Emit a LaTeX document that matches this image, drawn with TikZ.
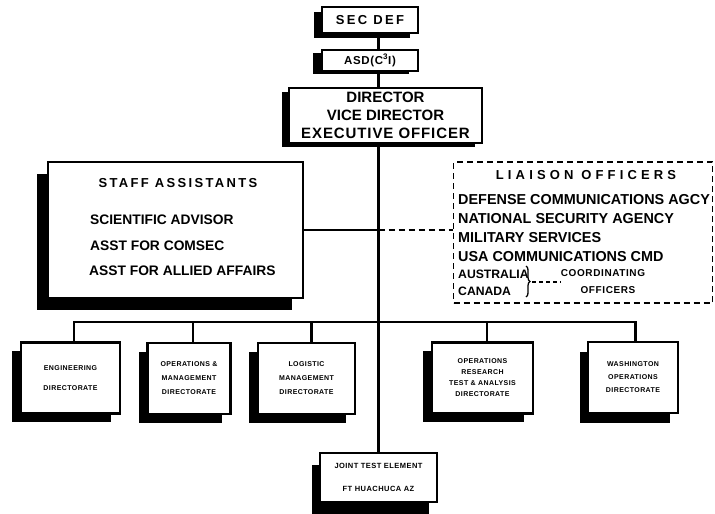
\documentclass[tikz,border=0pt]{standalone}
\usepackage{fontspec}
\setmainfont{Liberation Sans}
\newfontfamily\lspace[LetterSpace=18]{Liberation Sans}
\newfontfamily\lwide[LetterSpace=32]{Liberation Sans}
\newfontfamily\lsmall[LetterSpace=6]{Liberation Sans}
\usetikzlibrary{decorations.pathreplacing}
\tikzset{
  box/.style={draw, line width=2.2pt, fill=white, inner sep=0pt, align=center},
  conn/.style={line width=2.3pt},
  dconn/.style={line width=1.8pt, dash pattern=on 6pt off 4pt},
  dirbox/.style={box, minimum height=71pt, font=\lsmall\bfseries\fontsize{7}{8}\selectfont},
  big/.style={font=\bfseries\fontsize{13.8}{16}\selectfont},
  lia/.style={font=\bfseries\fontsize{14.4}{16}\selectfont, anchor=west, inner sep=0pt},
  shadowfill/.style={fill=black},
}
\begin{document}
\begin{tikzpicture}[x=1pt,y=-1pt]
\useasboundingbox (0,0) rectangle (715,514);
% shadows (drawn first, boxes cover them)
\fill[shadowfill] (314,12) rectangle (410,38);
\fill[shadowfill] (313,53) rectangle (409,74);
\fill[shadowfill] (282,92) rectangle (475,147);
\fill[shadowfill] (37,174) rectangle (292,310);
\fill[shadowfill] (12,351) rectangle (111,422);
\fill[shadowfill] (138.5,351.5) rectangle (221.5,422.5);
\fill[shadowfill] (249,351.5) rectangle (346,422.5);
\fill[shadowfill] (423,351) rectangle (524,422);
\fill[shadowfill] (580,351.5) rectangle (670,422.5);
\fill[shadowfill] (312,465) rectangle (429,514);
% top chain
\node[box, minimum width=96pt, minimum height=26pt,
      font=\lspace\bfseries\fontsize{13}{15}\selectfont] (sec) at (370,20) {SEC DEF};
\node[box, minimum width=96pt, minimum height=21pt,
      font=\lsmall\bfseries\fontsize{11.5}{13}\selectfont] (asd) at (370,60.5) {ASD(C\textsuperscript{3}I)};
\node[box, minimum width=193pt, minimum height=55pt,
      font=\bfseries\fontsize{15}{18}\selectfont] (dir) at (385.5,115.5)
      {DIRECTOR\\VICE DIRECTOR\\{\lsmall EXECUTIVE OFFICER}};
% staff assistants
\node[box, minimum width=255pt, minimum height=136pt] (staff) at (175.5,230) {};
\node[font=\lspace\bfseries\fontsize{13}{15}\selectfont, inner sep=0pt] (stt) at (178,183) {STAFF ASSISTANTS};
\node[big, anchor=west, inner sep=0pt] (st1) at (90,220) {SCIENTIFIC ADVISOR};
\node[big, anchor=west, inner sep=0pt] (st2) at (90,246) {ASST FOR COMSEC};
\node[big, anchor=west, inner sep=0pt] (st3) at (89,271) {ASST FOR ALLIED AFFAIRS};
% liaison officers
\node[draw, dconn, minimum width=259pt, minimum height=141pt, inner sep=0pt] (liaison) at (583,232.5) {};
\node[font=\lwide\bfseries\fontsize{13}{15}\selectfont, inner sep=0pt] (lit) at (586,175) {LIAISON OFFICERS};
\node[lia] (l1) at (458,200) {DEFENSE COMMUNICATIONS AGCY};
\node[lia] (l2) at (458,219) {NATIONAL SECURITY AGENCY};
\node[lia] (l3) at (458,238) {MILITARY SERVICES};
\node[lia] (l4) at (458,257) {USA COMMUNICATIONS CMD};
\node[lia, font=\bfseries\fontsize{12.2}{14}\selectfont] (aus) at (458,274) {AUSTRALIA};
\node[lia, font=\bfseries\fontsize{12.2}{14}\selectfont] (can) at (458,291) {CANADA};
\node[font=\lsmall\bfseries\fontsize{10}{12}\selectfont, inner sep=0pt] (coo) at (603,273) {COORDINATING};
\node[font=\lsmall\bfseries\fontsize{10}{12}\selectfont, inner sep=0pt] (off) at (608,290) {OFFICERS};
\draw[decorate, decoration={brace, amplitude=4pt}, line width=1.3pt] (526,266) -- (526,297);
\coordinate (btip) at (532,282);
\draw[line width=1.3pt, dash pattern=on 4pt off 3pt] (btip) -- (coo.west |- btip);
% directorates
\node[dirbox, minimum width=99pt] (eng) at (70.5,378) {ENGINEERING\\[12pt]DIRECTORATE};
\node[dirbox, minimum width=83pt] (opm) at (189,378.5) {OPERATIONS \&\\[6pt]MANAGEMENT\\[6pt]DIRECTORATE};
\node[dirbox, minimum width=97pt] (log) at (306.5,378.5) {LOGISTIC\\[6pt]MANAGEMENT\\[6pt]DIRECTORATE};
\node[dirbox, minimum width=101pt] (orr) at (482.5,378) {OPERATIONS\\[3pt]RESEARCH\\[3pt]TEST \& ANALYSIS\\[3pt]DIRECTORATE};
\node[dirbox, minimum width=90pt] (was) at (633,377.5) {WASHINGTON\\[5pt]OPERATIONS\\[5pt]DIRECTORATE};
\node[box, minimum width=117pt, minimum height=49pt,
      font=\lsmall\bfseries\fontsize{7.5}{9}\selectfont] (jt) at (378.5,477.5)
      {JOINT TEST ELEMENT\\[14pt]FT HUACHUCA AZ};
% connectors
\draw[conn] (sec.south -| jt.north) -- (asd.north -| jt.north);
\draw[conn] (asd.south -| jt.north) -- (dir.north -| jt.north);
\draw[conn] (dir.south -| jt.north) -- (jt.north);
\draw[conn] (staff.east) -- (staff.east -| jt.north);
\draw[dconn] (staff.east -| jt.north) -- (staff.east -| liaison.west);
\coordinate (bus) at (378.5,322);
\draw[conn] ([xshift=3.5pt]eng.north) |- (bus) -| ([xshift=2.5pt]was.north);
\draw[conn] ([xshift=4pt]opm.north) -- ([xshift=4pt]opm.north |- bus);
\draw[conn] ([xshift=5pt]log.north) -- ([xshift=5pt]log.north |- bus);
\draw[conn] ([xshift=4.5pt]orr.north) -- ([xshift=4.5pt]orr.north |- bus);
\end{tikzpicture}
\end{document}
